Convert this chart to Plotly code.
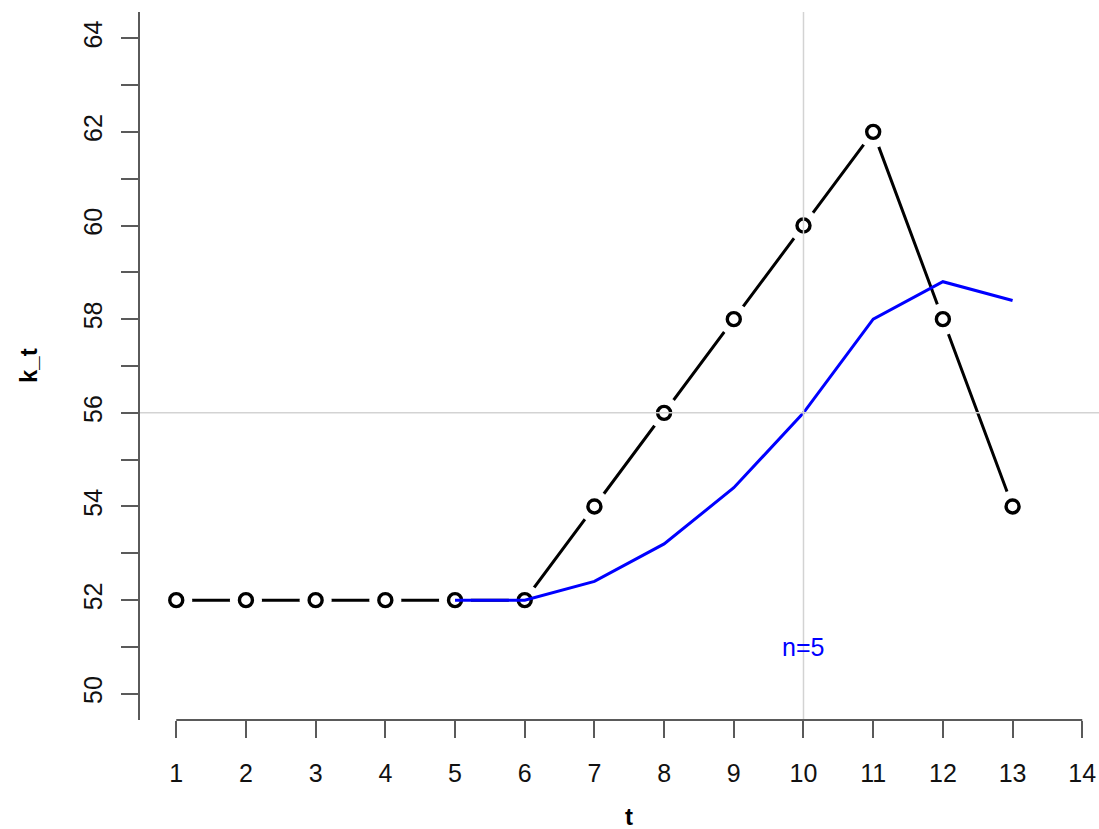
import plotly.graph_objects as go

t = [1, 2, 3, 4, 5, 6, 7, 8, 9, 10, 11, 12, 13]
k_t = [52, 52, 52, 52, 52, 52, 54, 56, 58, 60, 62, 58, 54]
t_ma = [5, 6, 7, 8, 9, 10, 11, 12, 13]
k_ma = [52, 52, 52.4, 53.2, 54.4, 56, 58, 58.8, 58.4]
x_ticks = list(range(1, 15))
y_major = [50, 52, 54, 56, 58, 60, 62, 64]
vline_x = 10
hline_y = 56
label_text = "n=5"
label_pos = (10, 51)

FONT = "Liberation Sans, Arial, sans-serif"
AXIS_COL = "#5a5a5a"
FS = 25

fig = go.Figure()
# black connecting line
fig.add_trace(go.Scatter(x=t, y=k_t, mode="lines",
                         line=dict(color="black", width=3), hoverinfo="skip"))
# white masks to create gaps around points (type="b" look)
fig.add_trace(go.Scatter(x=t, y=k_t, mode="markers",
                         marker=dict(symbol="circle", size=32, color="white",
                                     line=dict(width=0)), hoverinfo="skip"))
# open circles
fig.add_trace(go.Scatter(x=t, y=k_t, mode="markers",
                         marker=dict(symbol="circle-open", size=13, color="black",
                                     line=dict(width=3.4, color="black"))))
# moving average
fig.add_trace(go.Scatter(x=t_ma, y=k_ma, mode="lines",
                         line=dict(color="#0000ff", width=3)))

# reference lines
fig.add_shape(type="line", xref="paper", yref="y", x0=0, x1=1, y0=hline_y, y1=hline_y,
              line=dict(color="#d3d3d3", width=1.5), layer="above")
fig.add_shape(type="line", xref="x", yref="paper", x0=vline_x, x1=vline_x, y0=0, y1=1,
              line=dict(color="#d3d3d3", width=1.5), layer="above")
# x axis line from first to last tick
fig.add_shape(type="line", xref="x", yref="paper", x0=x_ticks[0], x1=x_ticks[-1], y0=0, y1=0,
              line=dict(color=AXIS_COL, width=2), layer="above")

fig.add_annotation(x=label_pos[0], y=label_pos[1], text=label_text, showarrow=False,
                   font=dict(family=FONT, size=FS, color="#0000ff"),
                   xanchor="center", yanchor="middle")
fig.add_annotation(x=7.5, xref="x", y=0, yref="paper", text="<b>t</b>", showarrow=False,
                   font=dict(family=FONT, size=24, color="black"),
                   xanchor="center", yanchor="middle", yshift=-96)
fig.add_annotation(x=0, xref="paper", y=0.5, yref="paper", text="<b>k_t</b>", showarrow=False,
                   font=dict(family=FONT, size=24, color="black"), textangle=-90,
                   xanchor="center", yanchor="middle", xshift=-112)

fig.update_layout(
    width=1099, height=829,
    margin=dict(l=140, r=0, t=12, b=109),
    plot_bgcolor="white", paper_bgcolor="white",
    showlegend=False,
    font=dict(family=FONT, size=FS, color="black"),
    xaxis=dict(range=[0.48, 14.24], tickvals=x_ticks, ticks="outside", ticklen=17,
               tickwidth=2, tickcolor=AXIS_COL, showgrid=False, zeroline=False,
               showline=False, ticklabelstandoff=14,
               tickfont=dict(family=FONT, size=FS, color="#111111")),
    yaxis=dict(range=[49.44, 64.56], tickvals=y_major, ticks="outside", ticklen=17,
               tickwidth=2, tickcolor=AXIS_COL, showgrid=False, zeroline=False,
               showline=True, linecolor=AXIS_COL, linewidth=2, tickangle=-90,
               ticklabelstandoff=9,
               minor=dict(dtick=1, tick0=50, ticks="outside", ticklen=17, tickwidth=2,
                          tickcolor=AXIS_COL, showgrid=False),
               tickfont=dict(family=FONT, size=FS, color="#111111")),
)

fig.write_html("out.html", config={"displayModeBar": False},
               post_script="document.body.style.margin='0';document.body.style.overflow='hidden';")
